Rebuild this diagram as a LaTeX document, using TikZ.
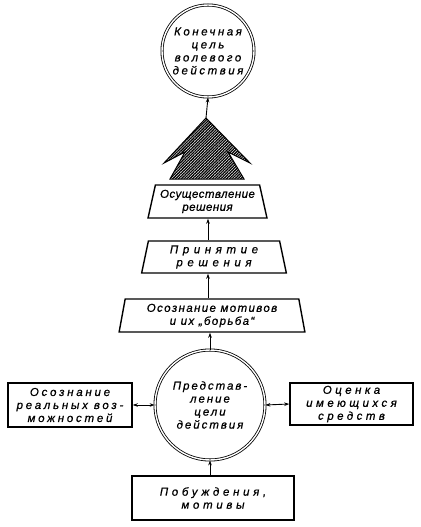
\documentclass[tikz,border=0pt]{standalone}
\usepackage{fontspec}
\newfontfamily\df{Liberation Sans}
\usetikzlibrary{shapes.geometric,patterns.meta,arrows.meta,calc}
\begin{document}
\begin{tikzpicture}[x=1pt,y=-1pt,
  lbl/.style={font=\df\itshape\fontsize{11.5}{13}\selectfont\addfontfeature{LetterSpace=#1,FakeBold=0.7}, align=center},
  lbl/.default=20,
  dcirc/.style={circle, draw, line width=0.8pt, double=white, double distance=1.4pt, inner sep=0pt, minimum size=#1},
  box/.style={draw, line width=1.5pt, inner sep=0pt},
  trap/.style={trapezium, trapezium stretches=true, draw, line width=1.4pt, inner sep=0pt},
  arr/.style={-{Stealth[length=5pt,width=3.5pt]}, line width=0.9pt},
  darr/.style={{Stealth[length=5pt,width=3.5pt]}-{Stealth[length=5pt,width=3.5pt]}, line width=0.9pt}]
\useasboundingbox (0,0) rectangle (420,527);

% top goal circle
\node[dcirc=92pt, lbl=22] (goal) at (208,51) {Конечная\\цель\\волевого\\действия};

% hatched arrow head
\draw[line width=1pt, pattern={Lines[angle=45,distance=2pt,line width=1.3pt]}]
  (206,118) coordinate (apex) -- (250,163) -- (228,152) -- (244,179) -- (170,179) -- (185,152) -- (164,163) -- cycle;

% trapezoids
\node[trap, lbl=4, minimum width=119pt, minimum height=33pt,
      trapezium left angle=74, trapezium right angle=74] (t1) at (207.5,201.5) {Осуществление\\решения};
\node[trap, lbl=40, minimum width=146pt, minimum height=32pt,
      trapezium left angle=79, trapezium right angle=79] (t2) at (214,257) {Принятие\\решения};
\node[trap, lbl=12, minimum width=186pt, minimum height=33pt,
      trapezium left angle=79, trapezium right angle=79] (t3) at (212,315.5) {Осознание мотивов\\и их „борьба“};

% middle circle
\node[dcirc=110pt, lbl=17] (mc) at (210,405) {Представ-\\ление\\цели\\действия};

% side and bottom boxes
\node[box, lbl=24, minimum width=124pt, minimum height=44pt] (lb) at (70,405) {Осознание\\реальных воз-\\можностей};
\node[box, lbl=30, minimum width=123pt, minimum height=42pt] (rb) at (351.5,404) {Оценка\\имеющихся\\средств};
\node[box, lbl=32, minimum width=162pt, minimum height=44pt] (bb) at (213,498) {Побуждения,\\мотивы};

% connectors
\draw[arr] (apex) -- (goal.south);
\draw[arr] (t2.north -| goal.center) -- (t1.south -| goal.center);
\draw[arr] (t3.north -| goal.center) -- (t2.south -| goal.center);
\draw[arr] (mc.north) -- (t3.south -| mc.center);
\draw[arr] (bb.north -| mc.center) -- (mc.south);
\draw[darr] (lb.east) -- (mc.west);
\draw[darr] (mc.east) -- (rb.west);
\end{tikzpicture}
\end{document}
